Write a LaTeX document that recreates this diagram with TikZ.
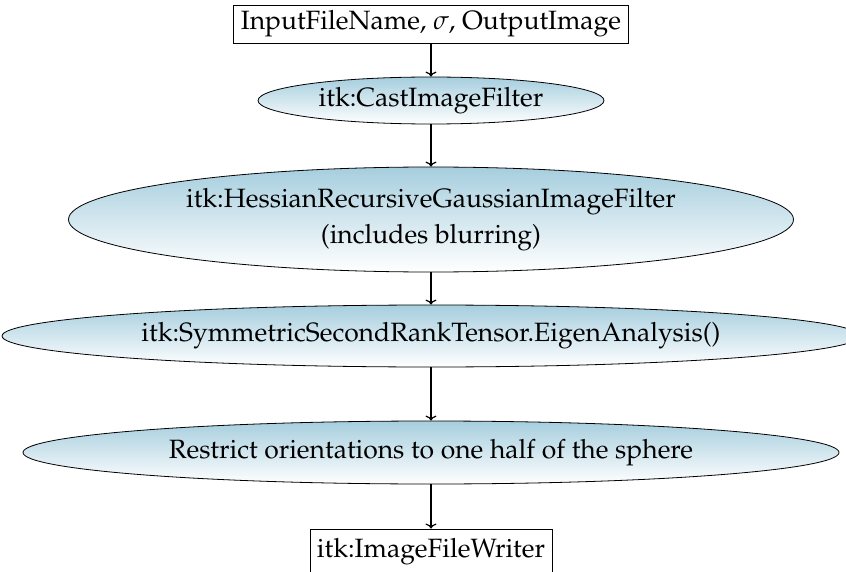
\documentclass[tikz,border=0pt]{standalone}
\usepackage[T1]{fontenc}
\usepackage{mathpazo}
\usetikzlibrary{shapes.geometric,arrows.meta}
\definecolor{shadetop}{RGB}{166,206,222}
\tikzset{
  stagebox/.style={draw=black, line width=0.9pt, fill=white, inner xsep=7pt, inner ysep=0pt, minimum height=38pt},
  stageell/.style={ellipse, draw=black, line width=0.8pt, top color=shadetop, bottom color=white, inner sep=0pt, align=center},
  flow/.style={-{To[length=5pt,width=11pt]}, line width=1.2pt},
}
\begin{document}
\begin{tikzpicture}[x=1pt,y=1pt,font=\fontsize{26.5}{36}\selectfont]
\useasboundingbox[clip] (0,0) rectangle (846,-572);
\node[stagebox] (in) at (431,-24) {InputFileName, $\sigma$, OutputImage};
\node[stageell, minimum width=346pt, minimum height=47pt] (cast) at (431,-100.5) {itk:CastImageFilter};
\node[stageell, minimum width=725pt, minimum height=105pt] (hess) at (431,-219.5) {itk:HessianRecursiveGaussianImageFilter\\(includes blurring)};
\node[stageell, minimum width=858pt, minimum height=62pt] (eig) at (431,-336) {itk:SymmetricSecondRankTensor.EigenAnalysis()};
\node[stageell, minimum width=816pt, minimum height=63pt] (restr) at (431,-452.5) {Restrict orientations to one half of the sphere};
\node[stagebox, minimum height=45pt] (out) at (431,-551.5) {itk:ImageFileWriter};
\draw[flow] (in) -- (cast);
\draw[flow] (cast) -- (hess);
\draw[flow] (hess) -- (eig);
\draw[flow] (eig) -- (restr);
\draw[flow] (restr) -- (out);
\end{tikzpicture}
\end{document}
